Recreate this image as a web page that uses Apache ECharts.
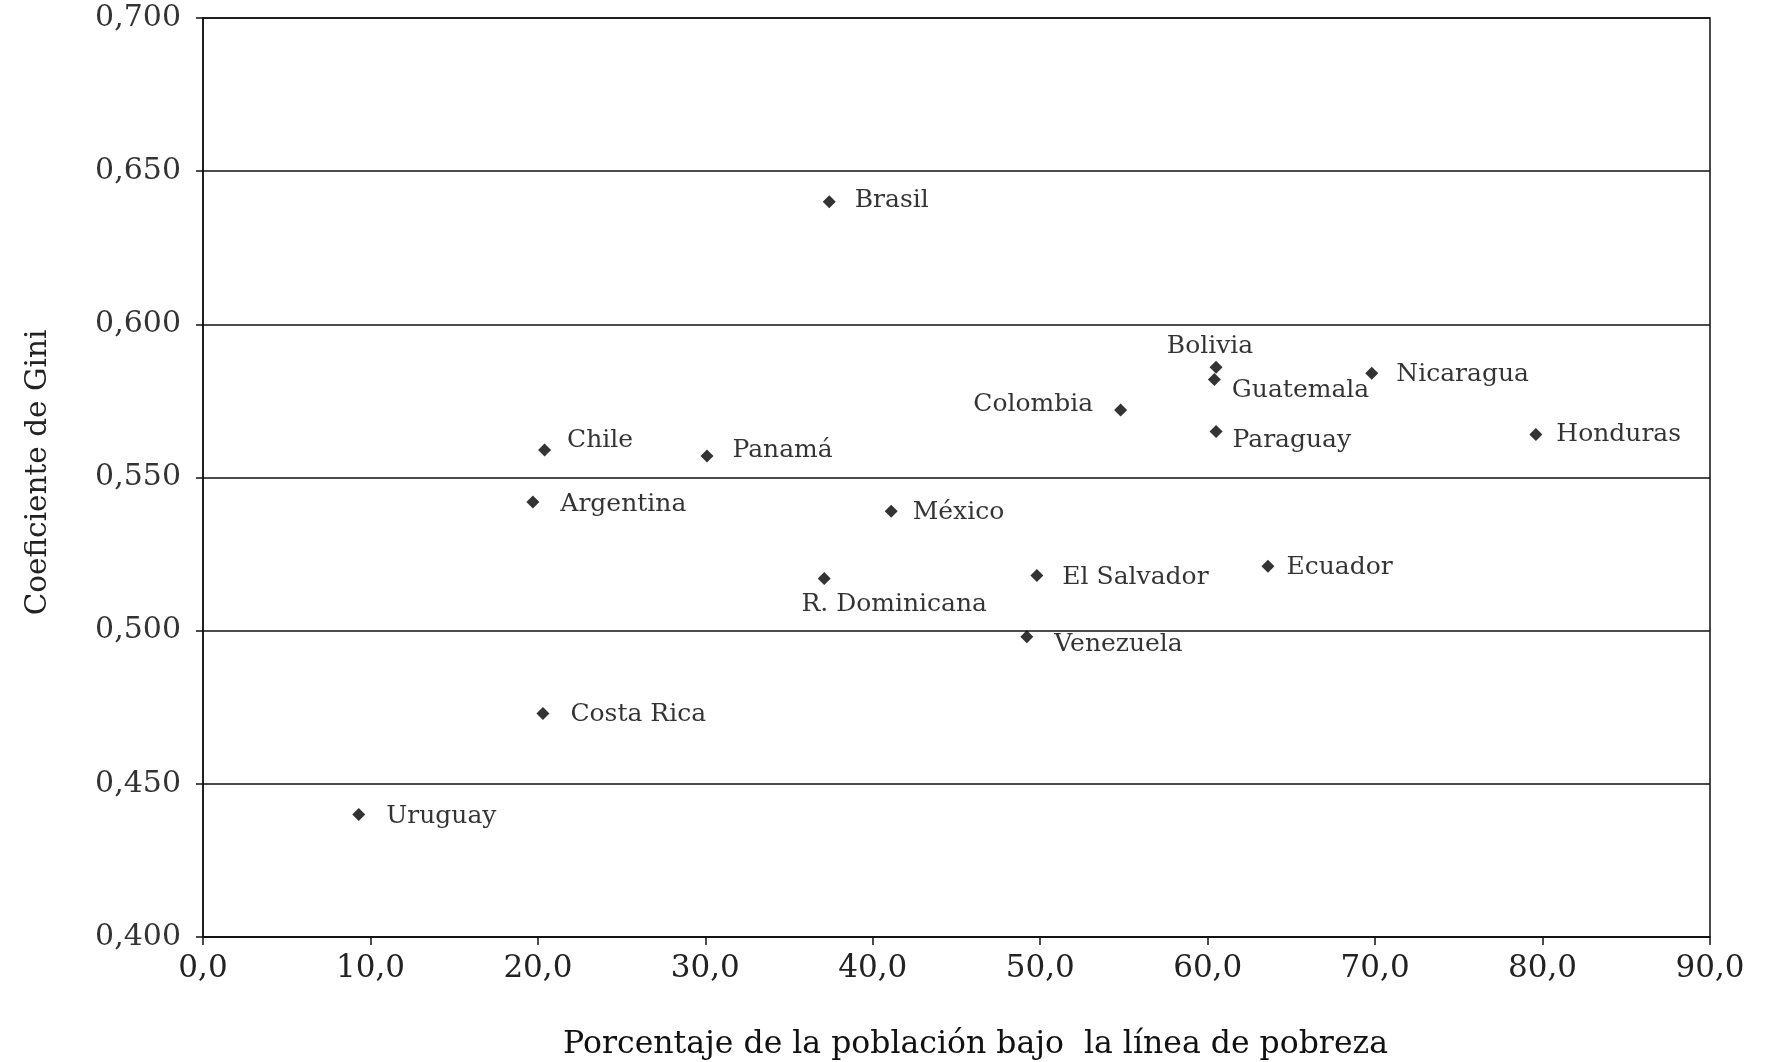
<!DOCTYPE html>
<html>
<head>
<meta charset="utf-8">
<script src="https://cdn.jsdelivr.net/npm/echarts@6/dist/echarts.min.js"></script>
<style>
html,body{margin:0;padding:0;background:#fff;}
#chart{width:1771px;height:1062px;}
</style>
</head>
<body>
<div id="chart"></div>
<script>
// ---- data ----
const countries = ['Brasil','Bolivia','Guatemala','Nicaragua','Colombia','Paraguay','Honduras','Chile','Panamá','Argentina','México','Ecuador','El Salvador','R. Dominicana','Venezuela','Costa Rica','Uruguay'];
const poverty   = [37.4, 60.5, 60.4, 69.8, 54.8, 60.5, 79.6, 20.4, 30.1, 19.7, 41.1, 63.6, 49.8, 37.1, 49.2, 20.3, 9.3];
const gini      = [0.640, 0.586, 0.582, 0.584, 0.572, 0.565, 0.564, 0.559, 0.557, 0.542, 0.539, 0.521, 0.518, 0.517, 0.498, 0.473, 0.440];
const xTickLabels = ['0,0','10,0','20,0','30,0','40,0','50,0','60,0','70,0','80,0','90,0'];
const yTickLabels = ['0,400','0,450','0,500','0,550','0,600','0,650','0,700'];
const xTitle = 'Porcentaje de la población bajo  la línea de pobreza';
const yTitle = 'Coeficiente de Gini';

// ---- label placement (style only) ----
const labelPlacement = {
  'Brasil':        {position:'right', distance:0, offset:[19,-1]},
  'Bolivia':       {position:'top', distance:2, offset:[-6,0]},
  'Guatemala':     {position:'right', distance:0, offset:[11,11]},
  'Nicaragua':     {position:'right', distance:0, offset:[18,1]},
  'Colombia':      {position:'left', distance:0, offset:[-21,-6]},
  'Paraguay':      {position:'right', distance:0, offset:[10,9]},
  'Honduras':      {position:'right', distance:0, offset:[14,0]},
  'Chile':         {position:'right', distance:0, offset:[16,-9]},
  'Panamá':        {position:'right', distance:0, offset:[19,-6]},
  'Argentina':     {position:'right', distance:0, offset:[21,2]},
  'México':        {position:'right', distance:0, offset:[15,1]},
  'Ecuador':       {position:'right', distance:0, offset:[12,1]},
  'El Salvador':   {position:'right', distance:0, offset:[19,2]},
  'R. Dominicana': {position:'bottom', distance:7, offset:[70,0]},
  'Venezuela':     {position:'right', distance:0, offset:[21,8]},
  'Costa Rica':    {position:'right', distance:0, offset:[21,1]},
  'Uruguay':       {position:'right', distance:0, offset:[21,2]}
};

const FONT = 'DejaVu Serif';
const chart = echarts.init(document.getElementById('chart'));
const seriesData = countries.map((n, i) => ({
  name: n,
  value: [poverty[i], gini[i]],
  label: labelPlacement[n]
}));

chart.setOption({
  backgroundColor: '#fff',
  animation: false,
  grid: {left: 203, right: 61, top: 18, bottom: 125, outerBoundsMode: 'none', containLabel: false,
         show: true, borderColor: '#111', borderWidth: 1.5, backgroundColor: 'transparent'},
  xAxis: {
    type: 'value', min: 0, max: 90, interval: 10,
    axisLine: {show: true, lineStyle: {color: '#111', width: 1.5}},
    axisTick: {show: true, length: 8, lineStyle: {color: '#111', width: 1.5}},
    splitLine: {show: false},
    axisLabel: {
      margin: 16, color: '#222', fontFamily: FONT, fontSize: 31,
      formatter: v => xTickLabels[Math.round(v / 10)]
    },
    name: xTitle, nameLocation: 'middle', nameGap: 92,
    nameTextStyle: {fontFamily: FONT, fontSize: 31.5, color: '#111', padding: [0, 0, 0, 38]}
  },
  yAxis: {
    type: 'value', min: 0.4, max: 0.7, interval: 0.05,
    axisLine: {show: true, lineStyle: {color: '#111', width: 1.5}},
    axisTick: {show: true, length: 7, lineStyle: {color: '#111', width: 1.5}},
    splitLine: {show: true, lineStyle: {color: '#111', width: 1.5}},
    axisLabel: {
      margin: 22, color: '#333', fontFamily: FONT, fontSize: 30,
      padding: [6, 0, 0, 0],
      formatter: v => yTickLabels[Math.round((v - 0.4) / 0.05)]
    },
    name: yTitle, nameLocation: 'middle', nameGap: 150, nameRotate: 90,
    nameTextStyle: {fontFamily: FONT, fontSize: 29.5, color: '#222', padding: [0, 0, 0, 10]}
  },
  series: [{
    type: 'scatter',
    symbol: 'diamond',
    symbolSize: 13,
    itemStyle: {color: '#000'},
    label: {
      show: true,
      formatter: p => p.name,
      fontFamily: FONT, fontSize: 25, color: '#000'
    },
    data: seriesData
  }]
});
</script>
</body>
</html>
